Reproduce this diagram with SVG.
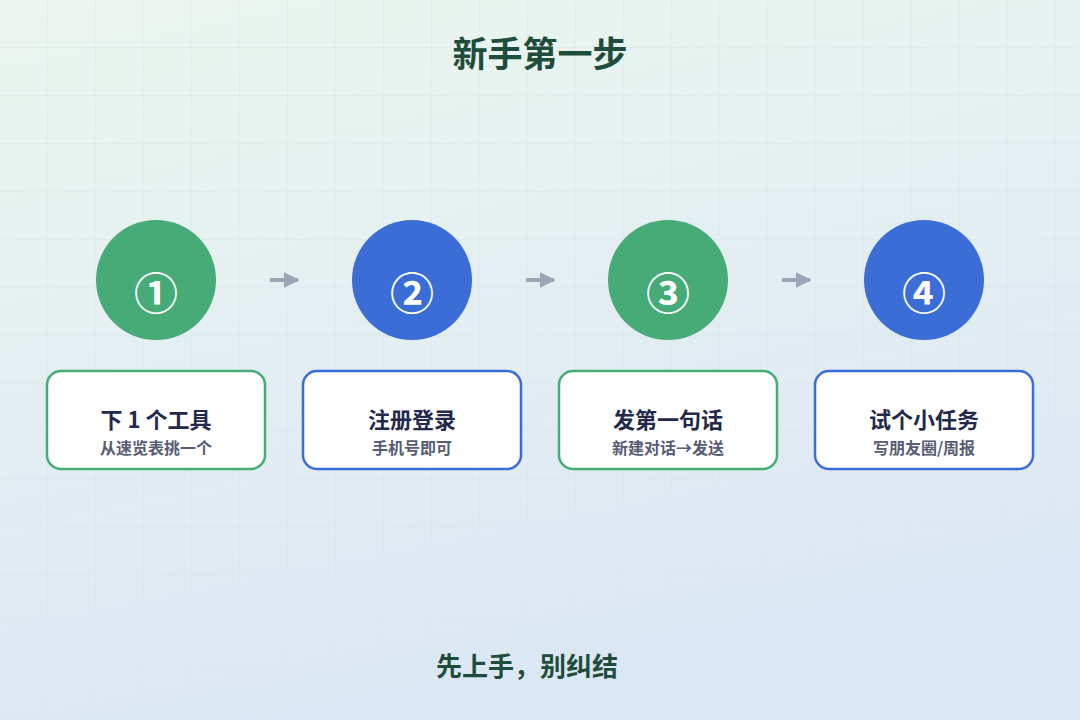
<svg xmlns="http://www.w3.org/2000/svg" width="1080" height="720" viewBox="0 0 1080 720">
<defs>
<linearGradient id="bg" x1="0" y1="0" x2="0.3" y2="1"><stop offset="0" stop-color="#ecf6ee"/><stop offset="1" stop-color="#dce7f5"/></linearGradient>
<pattern id="grid" width="48" height="48" patternUnits="userSpaceOnUse"><path d="M48 0V48M0 48H48" fill="none" stroke="#d4e2ea" stroke-width="1" opacity="0.7"/></pattern>
<marker id="ar" viewBox="0 0 10 10" refX="9" refY="5" markerWidth="4" markerHeight="4" orient="auto"><path d="M0 0L10 5L0 10z" fill="#9aa5b8"/></marker>
</defs>
<style>
text{font-family:"Noto Sans CJK SC","Noto Sans",sans-serif;font-weight:700;text-anchor:middle}
.num{font-size:44px;fill:#fff}
.t{font-size:22px;fill:#23294a}
.s{font-size:16px;fill:#555c73}
.box{fill:#fff;stroke-width:2.5}
.g{fill:#46ab77}.b{fill:#3b6dd6}
.gs{stroke:#46ab77}.bs{stroke:#3b6dd6}
</style>
<rect width="1080" height="720" fill="url(#bg)"/>
<rect width="1080" height="720" fill="url(#grid)"/>
<text x="540" y="67" style="font-size:35px;fill:#1e4d3b">新手第一步</text>
<g id="connectors" stroke="#9aa5b8" stroke-width="4" marker-end="url(#ar)">
<line x1="270" y1="280" x2="298" y2="280"/>
<line x1="526" y1="280" x2="554" y2="280"/>
<line x1="782" y1="280" x2="810" y2="280"/>
</g>
<g id="step1"><circle cx="156" cy="280" r="60" class="g"/><text x="156" y="310" class="num">①</text>
<rect x="47" y="371" width="218" height="98" rx="14" class="box gs"/><text x="156" y="428" class="t">下 1 个工具</text><text x="156" y="454" class="s">从速览表挑一个</text></g>
<g id="step2"><circle cx="412" cy="280" r="60" class="b"/><text x="412" y="310" class="num">②</text>
<rect x="303" y="371" width="218" height="98" rx="14" class="box bs"/><text x="412" y="428" class="t">注册登录</text><text x="412" y="454" class="s">手机号即可</text></g>
<g id="step3"><circle cx="668" cy="280" r="60" class="g"/><text x="668" y="310" class="num">③</text>
<rect x="559" y="371" width="218" height="98" rx="14" class="box gs"/><text x="668" y="428" class="t">发第一句话</text><text x="668" y="454" class="s">新建对话→发送</text></g>
<g id="step4"><circle cx="924" cy="280" r="60" class="b"/><text x="924" y="310" class="num">④</text>
<rect x="815" y="371" width="218" height="98" rx="14" class="box bs"/><text x="924" y="428" class="t">试个小任务</text><text x="924" y="454" class="s">写朋友圈/周报</text></g>
<text x="527" y="676" style="font-size:26px;fill:#1e4d3b">先上手，别纠结</text>
</svg>
